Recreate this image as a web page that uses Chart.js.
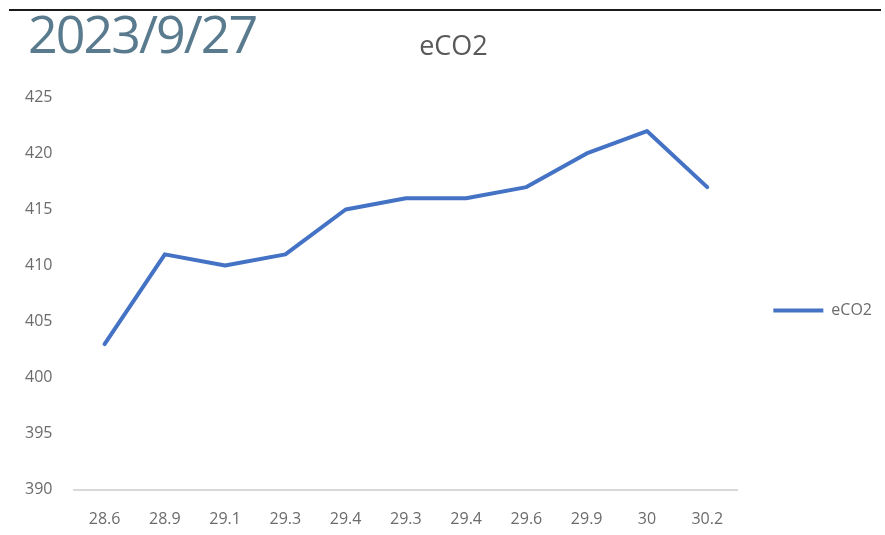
<!DOCTYPE html>
<html>
<head>
<meta charset="utf-8">
<script src="https://cdn.jsdelivr.net/npm/chart.js@4/dist/chart.umd.min.js"></script>
<style>
  body { margin: 0; background: #fff; }
  #wrap { position: relative; width: 885px; height: 535px; }
  #topline { position: absolute; left: 9px; top: 9px; width: 872px; height: 0; border-top: 2px solid #1a1a1a; }
  #date { position: absolute; left: 28px; top: 1px; font-family: "Open Sans", sans-serif; font-size: 52px; letter-spacing: -2px; color: #5a7a8e; line-height: 64px; }
  canvas { position: absolute; left: 0; top: 0; }
</style>
</head>
<body>
<div id="wrap">
  <canvas id="chart" width="885" height="535"></canvas>
  <div id="topline"></div>
  <div id="date">2023/9/27</div>
</div>
<script>
// x軸ラベル (温度) と eCO2 の値
const labels = ['28.6', '28.9', '29.1', '29.3', '29.4', '29.3', '29.4', '29.6', '29.9', '30', '30.2'];
const eco2 = [403, 411, 410, 411, 415, 416, 416, 417, 420, 422, 417];
const yMin = 390;
const yMax = 425;
const yStep = 5;

const font = 'Open Sans';
const gray = '#6b6b6b';

const ctx = document.getElementById('chart').getContext('2d');
new Chart(ctx, {
    type: 'line',
    data: {
        labels: labels,
        datasets: [{
            label: 'eCO2',
            data: eco2,
            borderColor: '#4472C4',
            backgroundColor: '#4472C4',
            borderWidth: 4,
            borderJoinStyle: 'round',
            borderCapStyle: 'round',
            pointRadius: 0,
            tension: 0
        }]
    },
    options: {
        responsive: false,
        animation: false,
        layout: { padding: { left: 25, right: 3, top: 0, bottom: 6 } },
        plugins: {
            title: {
                display: true,
                text: 'eCO2',
                color: '#595959',
                font: { family: font, size: 27, weight: 'normal' },
                padding: { top: 31, bottom: 34 }
            },
            legend: {
                position: 'right',
                title: { display: true, text: '', font: { size: 0 }, padding: { top: 92, bottom: 0 } },
                labels: {
                    usePointStyle: true,
                    pointStyle: 'line',
                    pointStyleWidth: 50,
                    padding: 36,
                    color: gray,
                    font: { family: font, size: 16 }
                }
            },
            tooltip: { enabled: false }
        },
        scales: {
            x: {
                offset: true,
                grid: { display: false, drawTicks: false },
                border: { display: true, color: '#d9d9d9', width: 2 },
                ticks: { color: gray, padding: 20, font: { family: font, size: 16 } },
                afterFit: s => { s.height -= 20; }
            },
            y: {
                min: yMin,
                max: yMax,
                grid: { display: false, drawTicks: false },
                border: { display: false },
                ticks: { stepSize: yStep, color: gray, padding: 22, font: { family: font, size: 16 } },
                afterFit: s => { s.width -= 22; }
            }
        }
    }
});
</script>
</body>
</html>
